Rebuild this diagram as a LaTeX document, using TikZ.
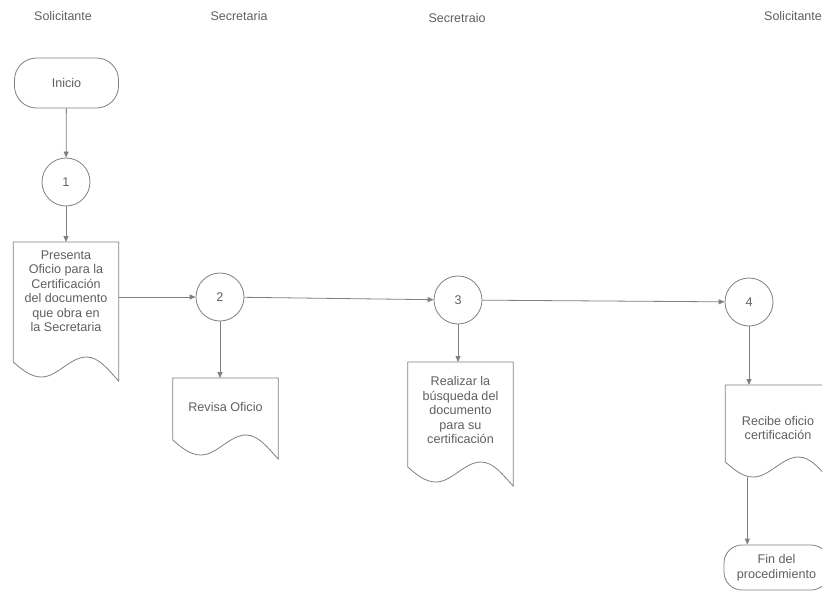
\documentclass[tikz,border=0pt]{standalone}
\usepackage{fontspec}
\setmainfont{Liberation Sans}
\usetikzlibrary{calc,arrows.meta}

\definecolor{inkline}{HTML}{808080}
\definecolor{inktext}{HTML}{606060}

% outline of a document symbol: flat top, wavy bottom;
% #1 = node name, #2 = depth of the left bottom corner below the top
\newcommand\docshape[2]{%
  \draw[shapeline]
    (#1.north west) -- (#1.north east) -- ($(#1.north east)+(0,{#2+19})$)
    .. controls ($(#1.north west)+(95,{#2+8})$) and ($(#1.north west)+(86,{#2-5})$) .. ($(#1.north west)+(73,{#2-5})$)
    .. controls ($(#1.north west)+(57,{#2-5})$) and ($(#1.north west)+(44,{#2+15})$) .. ($(#1.north west)+(28,{#2+15})$)
    .. controls ($(#1.north west)+(17,{#2+15})$) and ($(#1.north west)+(8,{#2+7})$) .. ($(#1.north west)+(0,#2)$)
    -- cycle;}

\begin{document}
\begin{tikzpicture}[x=1pt,y=-1pt,
  shapeline/.style={draw=inkline,line width=0.8pt},
  lane/.style={text=inktext,font=\fontsize{12.5}{14}\selectfont},
  txt/.style={text=inktext,font=\fontsize{12.6}{14.5}\selectfont,align=center},
  terminal/.style={txt,shapeline,rounded corners=22pt,minimum width=104pt,inner sep=2pt},
  stepcircle/.style={txt,shapeline,circle,minimum size=48pt,inner sep=0pt},
  docnode/.style={txt,anchor=north,minimum width=105pt,inner sep=2pt},
  flow/.style={draw=inkline,line width=0.8pt,-{Triangle[length=6pt,width=5pt]}}
]
\useasboundingbox[fill=white] (0,0) rectangle (822,594);

% lane headings
\node[lane] (h1) at (63,16) {Solicitante};
\node[lane] (h2) at (239,16) {Secretaria};
\node[lane] (h3) at (457,18) {Secretraio};
\node[lane] (h4) at (793,16) {Solicitante};

% shapes
\node[terminal,minimum height=50pt] (ini) at (66.5,83) {Inicio};
\node[stepcircle] (c1) at (66,182) {1};
\node[docnode,minimum height=98pt] (d1) at (66,242)
  {Presenta\\Oficio para la\\Certificación\\del documento\\que obra en\\la Secretaria};
\node[stepcircle] (c2) at (220,297) {2};
\node[docnode,minimum height=58pt] (d2) at (225.5,378) {Revisa Oficio};
\node[stepcircle] (c3) at (458,300) {3};
\node[docnode,minimum height=96pt] (d3) at (460.5,362)
  {Realizar la\\búsqueda del\\documento\\para su\\certificación};
\node[stepcircle] (c4) at (749,302) {4};
\node[docnode,minimum height=86pt] (d4) at (778,385)
  {Recibe oficio\\certificación};
\node[terminal,minimum width=105pt,minimum height=45pt,rounded corners=18pt] (fin) at (776.5,567.5)
  {Fin del\\procedimiento};

\docshape{d1}{120}
\docshape{d2}{62}
\docshape{d3}{105}
\docshape{d4}{77}

\coordinate (d4b) at ($(d4.north west)+(22,92)$);

% connectors
\draw[flow] (ini) -- (c1);
\draw[flow] (c1) -- (d1.north);
\draw[flow] (d1.east |- c2) -- (c2.west);
\draw[flow] (c2) -- (c3);
\draw[flow] (c3) -- (c4);
\draw[flow] (c2.south) -- (c2 |- d2.north);
\draw[flow] (c3.south) -- (c3 |- d3.north);
\draw[flow] (c4.south) -- (c4 |- d4.north);
\draw[flow] (d4b) -- (d4b |- fin.north);
\end{tikzpicture}
\end{document}
